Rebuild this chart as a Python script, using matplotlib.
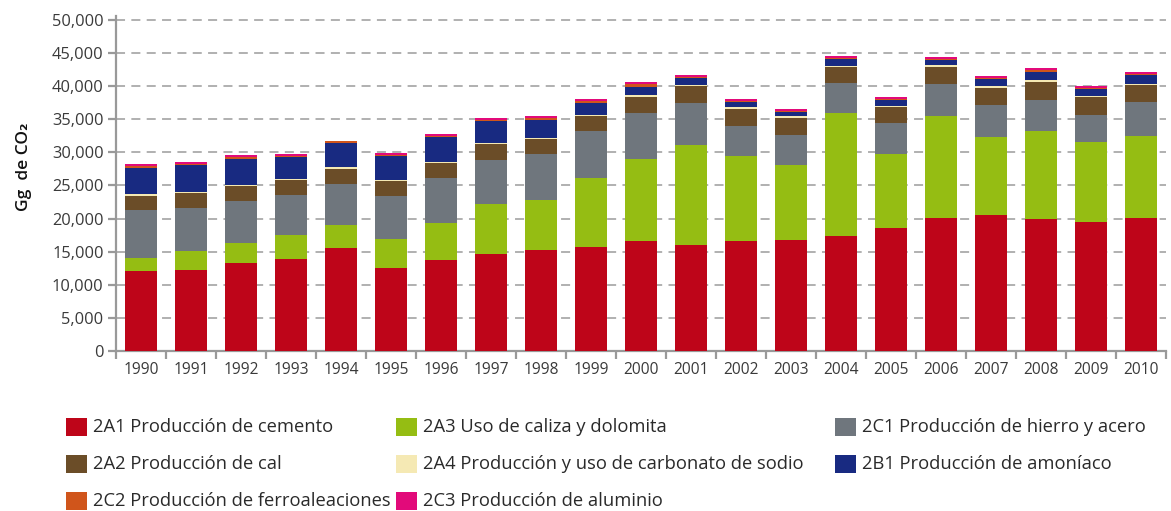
import matplotlib
matplotlib.use("Agg")
import matplotlib.pyplot as plt
import numpy as np
from matplotlib.ticker import FuncFormatter, FixedLocator

plt.rcParams['font.family'] = ['Open Sans', 'DejaVu Sans']

years = [str(y) for y in range(1990, 2011)]

# values in Gg CO2
cemento = [12080, 12230, 13290, 13890, 15550, 12530, 13740, 14650, 15250, 15700, 16610,
           16000, 16610, 16760, 17360, 18570, 20080, 20530, 19930, 19480, 20080]
caliza = [2010, 2870, 3020, 3620, 3470, 4380, 5590, 7540, 7550, 10420, 12380,
          15100, 12830, 11320, 18570, 11170, 15400, 11780, 13290, 12080, 12380]
hierro = [7200, 6490, 6340, 6040, 6190, 6490, 6790, 6650, 6940, 7100, 6940,
          6340, 4530, 4530, 4530, 4680, 4830, 4830, 4680, 4070, 5130]
cal = [2110, 2320, 2310, 2320, 2270, 2270, 2260, 2410, 2270, 2260, 2420,
       2570, 2570, 2570, 2420, 2420, 2570, 2570, 2710, 2720, 2570]
carbonato = [300, 150, 150, 100, 350, 150, 160, 150, 200, 150, 300,
             150, 300, 300, 150, 150, 300, 300, 310, 150, 150]
amoniaco = [3980, 4020, 3880, 3370, 3570, 3670, 3820, 3330, 2670, 1810, 1210,
            1060, 750, 650, 1060, 910, 760, 1060, 1200, 1060, 1360]
ferro = [300, 150, 300, 100, 310, 150, 150, 150, 300, 300, 450,
         150, 150, 160, 150, 150, 150, 150, 310, 150, 150]
aluminio = [250, 300, 300, 300, 50, 250, 250, 300, 300, 310, 300,
            300, 310, 250, 300, 300, 300, 300, 300, 300, 300]

series = [
    ("2A1 Producción de cemento", cemento, "#BE0519"),
    ("2A3 Uso de caliza y dolomita", caliza, "#95BD13"),
    ("2C1 Producción de hierro y acero", hierro, "#6F767D"),
    ("2A2 Producción de cal", cal, "#6B4D28"),
    ("2A4 Producción y uso de carbonato de sodio", carbonato, "#F5E9B4"),
    ("2B1 Producción de amoníaco", amoniaco, "#182A81"),
    ("2C2 Producción de ferroaleaciones", ferro, "#D0551B"),
    ("2C3 Producción de aluminio", aluminio, "#E20A7A"),
]

fig = plt.figure(figsize=(11.71, 5.11), dpi=100)
ax = fig.add_axes([116/1171, 160/511, 1050/1171, 335/511])

x = np.arange(len(years))
bottom = np.zeros(len(years))
for name, vals, col in series:
    v = np.array(vals, dtype=float)
    ax.bar(x, v, bottom=bottom, width=0.64, color=col, linewidth=0, zorder=3)
    bottom += v

ax.set_xlim(-0.5, len(years) - 0.5)
ax.set_ylim(0, 50600)
ax.yaxis.set_major_locator(FixedLocator(np.arange(0, 50001, 5000)))
ax.yaxis.set_major_formatter(FuncFormatter(lambda v, p: f"{int(v):,}"))
ax.grid(axis='y', color='#AAAAAA', linestyle=(0, (5, 3.5)), linewidth=1.3, zorder=0)
ax.set_axisbelow(True)

ax.set_xticks(x)
ax.set_xticklabels(years)
ax.set_xticks(np.arange(-0.5, len(years), 1), minor=True)
ax.tick_params(axis='x', which='major', length=0, pad=8, labelsize=11.2, labelcolor='#3a3a3a')
ax.tick_params(axis='x', which='minor', length=6, width=1.6, color='#999999', direction='out')
ax.tick_params(axis='y', length=6, width=1.6, color='#999999', labelsize=11.8,
               labelcolor='#3a3a3a', pad=3)

for s in ['top', 'right']:
    ax.spines[s].set_visible(False)
for s in ['left', 'bottom']:
    ax.spines[s].set_color('#999999')
    ax.spines[s].set_linewidth(1.6)

ax.set_ylabel("Gg  de CO₂", fontsize=12.5, fontweight='semibold', color='#111111')
ax.yaxis.set_label_coords(-84/1050, 0.55)

# legend: three columns, filled row by row as in the reference
col1 = [0, 3, 6]
col2 = [1, 4, 7]
col3 = [2, 5]
positions = [(66 / 1171, col1), (396 / 1171, col2), (835 / 1171, col3)]
row_y = [427, 464, 501]
for xpos, idxs in positions:
    for r, i in enumerate(idxs):
        y = 1 - row_y[r] / 511
        fig.patches.append(plt.Rectangle((xpos, y - 9/511), 21/1171, 18/511,
                                         transform=fig.transFigure, facecolor=series[i][2],
                                         edgecolor='none'))
        fig.text(xpos + 27/1171, y, series[i][0], fontsize=13.2, color='#2a2a2a',
                 va='center', ha='left')

fig.savefig("out.png", dpi=100)
